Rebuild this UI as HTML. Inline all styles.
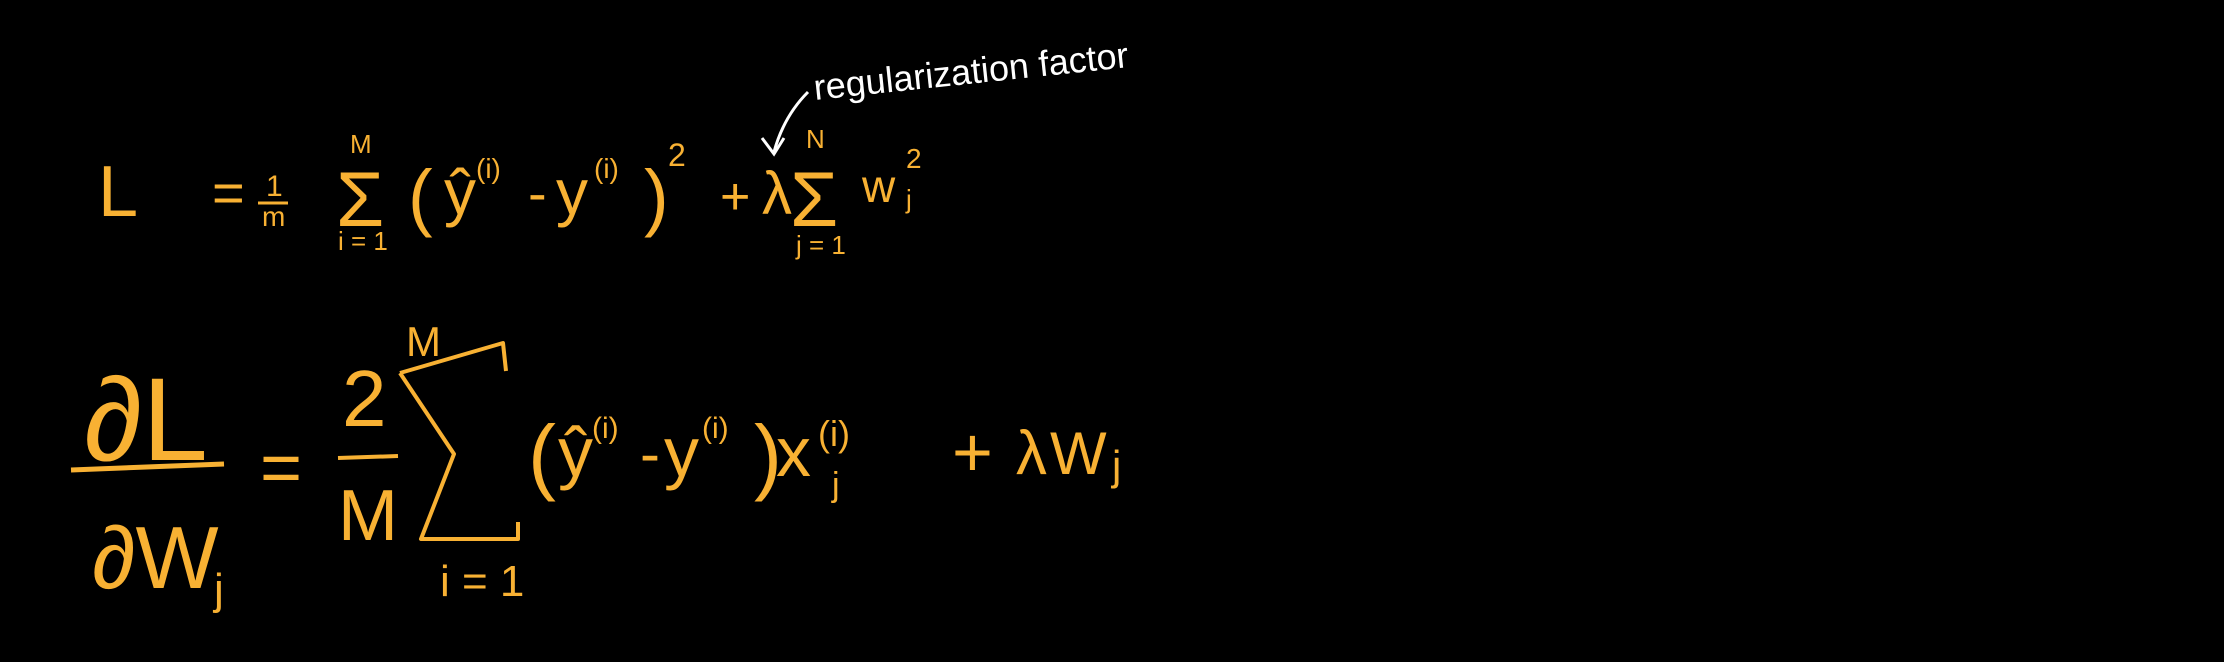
<!DOCTYPE html>
<html><head><meta charset="utf-8"><style>
html,body{margin:0;padding:0;background:#000;}
svg{display:block}
text{font-family:"Liberation Sans","DejaVu Sans",sans-serif;fill:#f8b133;}
.w{fill:#fff}
</style></head><body>
<svg width="2224" height="662" viewBox="0 0 2224 662">
<rect width="2224" height="662" fill="#000"/>
<g>
 <text x="98" y="216" font-size="72">L</text>
 <text x="212" y="212" font-size="56">=</text>
 <text x="266" y="196" font-size="30">1</text>
 <line x1="258" y1="203" x2="288" y2="203" stroke="#f8b133" stroke-width="3"/>
 <text x="262" y="226" font-size="28">m</text>
 <text x="350" y="153" font-size="26">M</text>
 <text x="336" y="226" font-size="78">Σ</text>
 <text x="338" y="250" font-size="26">i = 1</text>
 <text x="408" y="222" font-size="74">(</text>
 <text x="444" y="214" font-size="64">ŷ</text>
 <text x="476" y="178" font-size="28">(i)</text>
 <text x="528" y="212" font-size="56">-</text>
 <text x="556" y="214" font-size="64">y</text>
 <text x="594" y="178" font-size="28">(i)</text>
 <text x="644" y="222" font-size="74">)</text>
 <text x="668" y="166" font-size="32">2</text>
 <text x="720" y="214" font-size="52">+</text>
 <text x="762" y="214" font-size="60">λ</text>
 <text x="806" y="148" font-size="26">N</text>
 <text x="790" y="226" font-size="78">Σ</text>
 <text x="796" y="254" font-size="26">j = 1</text>
 <text x="862" y="202" font-size="46">w</text>
 <text x="906" y="168" font-size="28">2</text>
 <text x="906" y="208" font-size="26">j</text>
</g>
<g>
 <text class="w" x="815" y="100" font-size="36" transform="rotate(-6 815 100)">regularization factor</text>
 <path d="M808 92 C790 110 780 130 774 152" stroke="#fff" stroke-width="3" fill="none"/>
 <path d="M762 138 L774 154 L784 138" stroke="#fff" stroke-width="3" fill="none"/>
</g>
<g>
 <text x="84" y="460" font-size="118">∂L</text>
 <path d="M71 470 L224 464" stroke="#f8b133" stroke-width="5" fill="none"/>
 <text x="92" y="588" font-size="88">∂W</text>
 <text x="214" y="604" font-size="44">j</text>
 <text x="260" y="492" font-size="72">=</text>
 <text x="342" y="426" font-size="80">2</text>
 <line x1="338" y1="458" x2="398" y2="456" stroke="#f8b133" stroke-width="4"/>
 <text x="338" y="540" font-size="72">M</text>
 <text x="406" y="356" font-size="42">M</text>
 <path d="M400 373 L503 343 L506 371 M400 373 L454 454 L421 539 L518 539 L518 522" stroke="#f8b133" stroke-width="4" fill="none" stroke-linejoin="round"/>
 <text x="440" y="596" font-size="44">i = 1</text>
 <text x="528" y="484" font-size="84">(</text>
 <text x="558" y="476" font-size="70">ŷ</text>
 <text x="592" y="438" font-size="30">(i)</text>
 <text x="640" y="474" font-size="60">-</text>
 <text x="664" y="476" font-size="70">y</text>
 <text x="702" y="438" font-size="30">(i)</text>
 <text x="754" y="484" font-size="84">)</text>
 <text x="776" y="476" font-size="70">x</text>
 <text x="818" y="446" font-size="36">(i)</text>
 <text x="832" y="496" font-size="34">j</text>
 <text x="952" y="476" font-size="70">+</text>
 <text x="1016" y="474" font-size="62">λ</text>
 <text x="1050" y="474" font-size="60">W</text>
 <text x="1112" y="480" font-size="42">j</text>
</g>
</svg>
</body></html>
